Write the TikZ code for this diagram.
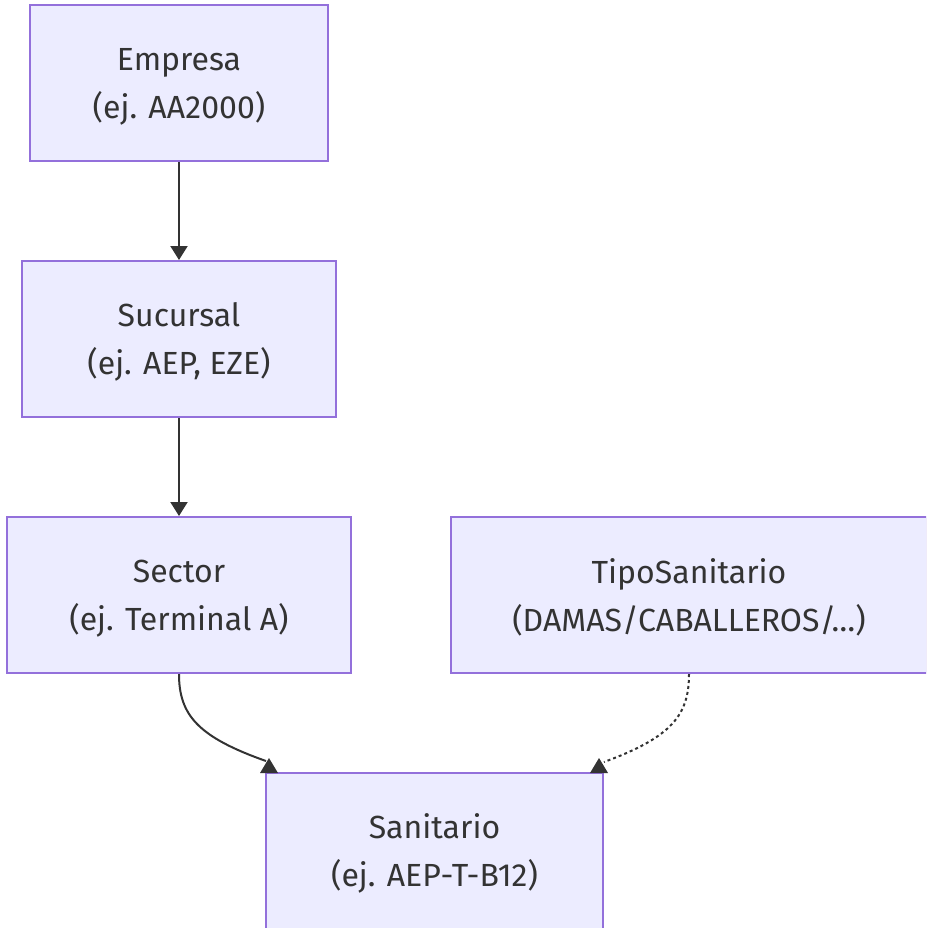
\documentclass[tikz,border=0pt]{standalone}
\usepackage{fontspec}
\setmainfont{Fira Sans}
\usetikzlibrary{arrows.meta}
\definecolor{boxfill}{HTML}{ECECFF}
\definecolor{boxline}{HTML}{9370DB}
\definecolor{ink}{HTML}{333333}
\newcommand{\topstrut}{\rule{0pt}{29pt}}
\tikzset{
  entity/.style={draw=boxline, fill=boxfill, line width=2pt, rectangle,
    minimum height=156pt, inner sep=0pt, align=center, text=ink,
    font=\fontsize{32}{48}\selectfont},
  link/.style={draw=ink, line width=2pt, -{Triangle[length=14pt,width=17pt]}},
  curvelink/.style={draw=ink, line width=2pt},
  dashlink/.style={draw=ink, line width=2pt, dash pattern=on 3pt off 3pt},
  tipmark/.style={fill=ink, draw=none}
}
\begin{document}
\begin{tikzpicture}[x=1pt,y=-1pt]
\useasboundingbox (0,0) rectangle (926,928);
\begin{scope}
\clip (0,0) rectangle (926,928);
\node[entity, minimum width=298pt] (emp) at (179,83) {\topstrut Empresa\\(ej. AA2000)};
\node[entity, minimum width=314pt] (suc) at (179,339) {\topstrut Sucursal\\(ej. AEP, EZE)};
\node[entity, minimum width=344pt] (sec) at (179,595) {\topstrut Sector\\(ej. Terminal A)};
\node[entity, minimum width=476pt] (tipo) at (689,595) {\topstrut TipoSanitario\\(DAMAS/CABALLEROS/…)};
\node[entity, minimum width=337pt] (san) at (434.5,851) {\topstrut Sanitario\\(ej. AEP-T-B12)};

\draw[link] (emp.south) -- (suc.north);
\draw[link] (suc.south) -- (sec.north);

\coordinate (e1) at (266,761);
\coordinate (e2) at (604,762);
\draw[curvelink] (sec.south) .. controls (179,715) and (198,737) .. (e1);
\draw[dashlink] (tipo.south) .. controls (689,715) and (672,737) .. (e2);
\fill[tipmark] (269,758) -- (278,773) -- (260,773) -- cycle;
\fill[tipmark] (599,758) -- (608,773) -- (590,773) -- cycle;
\end{scope}
\end{tikzpicture}
\end{document}
